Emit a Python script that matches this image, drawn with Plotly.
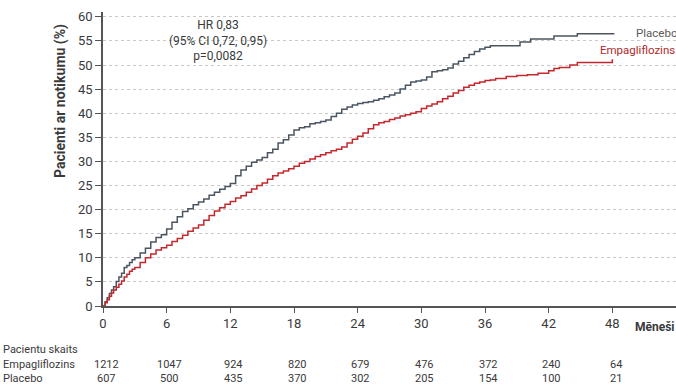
import plotly.graph_objects as go

# Kaplan-Meier style cumulative event curves
placebo_t = [0, 0.2, 0.4, 0.6, 0.8, 1, 1.25, 1.5, 1.75, 2, 2.25, 2.5, 2.75, 3, 3.5, 4, 4.5, 5, 5.5,
             6, 6.5, 7, 7.5, 8, 8.5, 9, 9.5,
             10, 10.5, 11, 11.5, 12, 12.5, 13, 13.5, 14, 14.5, 15, 15.5, 16, 16.5, 17, 17.5,
             18, 18.5, 19, 19.5, 20, 20.5, 21, 21.5, 22, 22.5, 23, 23.5, 24, 24.5, 25, 25.5,
             26, 26.5, 27, 27.5, 28, 28.5, 29, 29.5, 30, 30.5, 31, 31.5, 32, 32.5, 33, 33.5,
             34, 34.5, 35, 35.5, 36, 36.5, 39.3, 40.3, 42.5, 44.7, 48.2]
placebo_v = [0, 0.9, 1.7, 2.6, 3.3, 4.0, 5.1, 6.0, 6.8, 8.0, 8.4, 9.0, 9.6, 10.0, 11.0, 12.0, 13.3,
             14.2, 14.8, 16.0, 17.4, 18.5, 19.6,
             20.2, 21.0, 21.6, 22.2, 23.0, 23.6, 24.2, 24.8, 25.4, 27.0, 28.2, 29.0, 29.8, 30.3,
             30.8, 31.8, 32.5, 33.8, 34.5, 35.5, 36.5, 37.0, 37.2, 37.8, 38.0, 38.3, 38.6, 39.3,
             40.0, 40.8, 41.3, 41.7, 42.0, 42.2, 42.4, 42.7, 43.0, 43.4, 43.8, 44.2, 45.0, 45.8,
             46.5, 46.7, 46.9, 47.5, 48.6, 48.8, 49.0, 49.4, 50.2, 50.8, 51.5, 52.2, 52.8, 53.3,
             53.7, 54.0, 54.8, 55.4, 56.0, 56.5, 56.5]

empa_t = [0, 0.2, 0.4, 0.6, 0.8, 1, 1.25, 1.5, 1.75, 2, 2.25, 2.5, 2.75, 3, 3.5, 4, 4.5, 5, 5.5,
          6, 6.5, 7, 7.5, 8, 8.5, 9, 9.5,
          10, 10.5, 11, 11.5, 12, 12.5, 13, 13.5, 14, 14.5, 15, 15.5, 16, 16.5, 17, 17.5,
          18, 18.5, 19, 19.5, 20, 20.5, 21, 21.5, 22, 22.5, 23, 23.5, 24, 24.5, 25, 25.5,
          26, 26.5, 27, 27.5, 28, 28.5, 29, 29.5, 30, 30.5, 31, 31.5, 32, 32.5, 33, 33.5,
          34, 34.5, 35, 35.5, 36, 36.5, 37, 38, 39, 40, 41, 42, 42.5, 43, 44, 44.7, 47.8, 48.0]
empa_v = [0, 0.7, 1.3, 2.0, 2.7, 3.3, 3.9, 4.5, 5.2, 6.0, 6.6, 7.2, 7.6, 8.0, 9.0, 10.0, 10.8,
          11.6, 12.1, 12.6, 13.4, 14.0, 14.7,
          15.5, 16.2, 16.8, 17.8, 18.8, 19.7, 20.4, 21.1, 21.7, 22.4, 22.9, 23.6, 24.3, 25.0,
          25.5, 26.3, 27.0, 27.6, 28.0, 28.5, 29.0, 29.6, 30.0, 30.5, 31.0, 31.4, 31.8, 32.2,
          32.5, 33.0, 33.8, 34.6, 35.2, 35.9, 36.8, 37.6, 38.0, 38.3, 38.7, 39.0, 39.4, 39.7,
          40.0, 40.3, 41.0, 41.5, 41.9, 42.4, 43.0, 43.5, 44.2, 44.7, 45.4, 45.8, 46.2, 46.5,
          46.8, 46.9, 47.2, 47.6, 47.8, 48.0, 48.3, 48.8, 49.3, 49.5, 50.0, 50.5, 50.5, 51.2]

# Number at risk table
risk_months = [0, 6, 12, 18, 24, 30, 36, 42, 48]
risk_empa = [1212, 1047, 924, 820, 679, 476, 372, 240, 64]
risk_placebo = [607, 500, 435, 370, 302, 205, 154, 100, 21]

x_ticks = [0, 6, 12, 18, 24, 30, 36, 42, 48, 54]
x_ticktext = ["0", "6", "12", "18", "24", "30", "36", "42", "48", ""]
y_ticks = [0, 5, 10, 15, 20, 25, 30, 35, 40, 45, 50, 55, 60]

GRAY = "#4b5560"
RED = "#c4282e"
TXT = "#3a3a3a"
FONT = "Roboto, Liberation Sans, sans-serif"

fig = go.Figure()
fig.add_trace(go.Scatter(x=placebo_t, y=placebo_v, mode="lines", line_shape="hv",
                         line=dict(color=GRAY, width=1.5), showlegend=False))
fig.add_trace(go.Scatter(x=empa_t, y=empa_v, mode="lines", line_shape="hv",
                         line=dict(color=RED, width=1.5), showlegend=False))

W, H = 676, 387
ml, mr, mt, mb = 103, 0, 12, 81
plot_h = H - mt - mb
plot_w = W - ml - mr

def ypaper(py):
    return (H - mb - py) / plot_h

def xpaper(px):
    return (px - ml) / plot_w

ann = []
# y-axis title (placed toward the top, as in the original)
ann.append(dict(x=xpaper(60), y=ypaper(101), xref="paper", yref="paper",
                text="<b>Pacienti ar notikumu (%)</b>", textangle=-90, showarrow=False,
                xanchor="center", yanchor="middle",
                font=dict(family=FONT, size=14, color=TXT)))
# HR box
ann.append(dict(x=xpaper(218), y=ypaper(40), xref="paper", yref="paper",
                text="HR 0,83<br>(95% CI 0,72, 0,95)<br>p=0,0082", showarrow=False,
                xanchor="center", yanchor="middle",
                font=dict(family=FONT, size=12, color=TXT), align="center"))
# series labels
ann.append(dict(x=xpaper(634), y=ypaper(33), xref="paper", yref="paper", text="Placebo",
                showarrow=False, xanchor="left", yanchor="middle",
                font=dict(family=FONT, size=11.5, color="#5a5a5a")))
ann.append(dict(x=xpaper(598), y=ypaper(50), xref="paper", yref="paper", text="Empagliflozins",
                showarrow=False, xanchor="left", yanchor="middle",
                font=dict(family=FONT, size=11.5, color="#b02a2a")))
# x axis title
ann.append(dict(x=xpaper(633), y=ypaper(327), xref="paper", yref="paper", text="<b>Mēneši</b>",
                showarrow=False, xanchor="left", yanchor="middle",
                font=dict(family=FONT, size=12, color=TXT)))
# table
for label, py in [("Pacientu skaits", 349), ("Empagliflozins", 364), ("Placebo", 378)]:
    ann.append(dict(x=xpaper(1), y=ypaper(py), xref="paper", yref="paper", text=label,
                    showarrow=False, xanchor="left", yanchor="middle",
                    font=dict(family=FONT, size=11, color=TXT)))
for m, e, p in zip(risk_months, risk_empa, risk_placebo):
    ann.append(dict(x=m + 0.3, y=ypaper(364), xref="x", yref="paper", text=str(e),
                    showarrow=False, xanchor="center", yanchor="middle",
                    font=dict(family=FONT, size=11, color=TXT)))
    ann.append(dict(x=m + 0.3, y=ypaper(378), xref="x", yref="paper", text=str(p),
                    showarrow=False, xanchor="center", yanchor="middle",
                    font=dict(family=FONT, size=11, color=TXT)))

fig.update_layout(
    width=W, height=H,
    margin=dict(l=ml, r=mr, t=mt, b=mb, pad=0),
    paper_bgcolor="white", plot_bgcolor="white",
    annotations=ann,
    xaxis=dict(range=[0, 54], tickvals=x_ticks, ticktext=x_ticktext, automargin=False,
               showgrid=False, zeroline=False, showline=True, linecolor="#555", linewidth=1.5,
               ticks="outside", ticklen=5, tickcolor="#555", tickwidth=1,
               tickfont=dict(family=FONT, size=13, color=TXT)),
    yaxis=dict(range=[0, 61], tickvals=y_ticks, automargin=False,
               showgrid=True, gridcolor="#c8c8c8", griddash="dot", gridwidth=1,
               zeroline=False, showline=True, linecolor="#555", linewidth=1.5,
               ticks="outside", ticklen=6, tickcolor="#555", tickwidth=1,
               tickfont=dict(family=FONT, size=13, color=TXT)),
)

fig.write_html("out.html", config={"displayModeBar": False},
               post_script="document.body.style.margin='0px';")
